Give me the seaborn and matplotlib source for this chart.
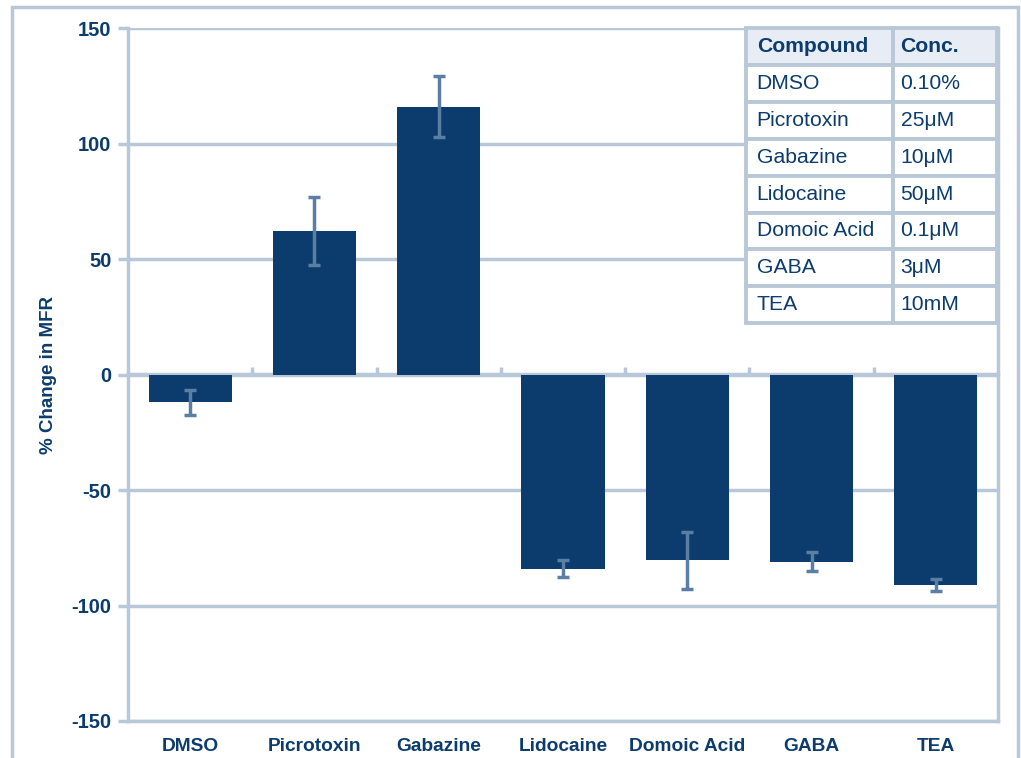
import matplotlib
matplotlib.use("Agg")
import matplotlib.pyplot as plt
from matplotlib.patches import Rectangle
import pandas as pd
import seaborn as sns

compounds = ["DMSO", "Picrotoxin", "Gabazine", "Lidocaine", "Domoic Acid", "GABA", "TEA"]
pct_change = [-12, 62, 116, -84, -80.5, -81, -91]
sem = [5.5, 14.7, 13.4, 3.6, 12.3, 4.1, 2.6]
concentrations = ["0.10%", "25μM", "10μM", "50μM", "0.1μM", "3μM", "10mM"]
y_ticks = [-150, -100, -50, 0, 50, 100, 150]

BAR = "#0B3C6D"
ERR = "#5B7EA4"
LINE = "#B9C8D8"
TEXT = "#0B3C6D"

sns.set_theme(style="white")
plt.rcParams["font.family"] = ["Liberation Sans", "DejaVu Sans"]
plt.rcParams["axes.unicode_minus"] = False

df = pd.DataFrame({"compound": compounds, "change": pct_change, "sem": sem})

fig = plt.figure(figsize=(10.21, 7.58), dpi=100)
ax = fig.add_axes([128 / 1021, 37 / 758, 870 / 1021, 693 / 758])

sns.barplot(data=df, x="compound", y="change", color=BAR, saturation=1,
            width=0.67, errorbar=None, linewidth=0, ax=ax, zorder=3)
ax.errorbar(df["compound"], df["change"], yerr=df["sem"], fmt="none",
            ecolor=ERR, elinewidth=2.5, capsize=4.5, capthick=2.5, zorder=4)

ax.set_xlim(-0.5, len(compounds) - 0.5)
ax.set_ylim(-150, 150)
ax.set_yticks(y_ticks)
ax.yaxis.grid(True, color=LINE, linewidth=2.5, zorder=0)
ax.set_axisbelow(True)

for side in ["left", "right", "bottom"]:
    ax.spines[side].set_color(LINE)
    ax.spines[side].set_linewidth(2.5)
ax.spines["top"].set_visible(False)

ax.tick_params(axis="y", length=7, width=2.5, color=LINE, left=True,
               labelsize=14.5, labelcolor=TEXT, pad=5)
ax.tick_params(axis="x", length=0, labelsize=13.8, labelcolor=TEXT, pad=12)
for lbl in ax.get_xticklabels() + ax.get_yticklabels():
    lbl.set_fontweight("bold")

ax.set_xlabel("")
ax.set_ylabel("% Change in MFR", fontsize=13.5, fontweight="bold", color=TEXT)
ax.yaxis.set_label_coords(-0.0816, 0.5)

# zero category axis with tick marks between categories
zero_axis = ax.secondary_xaxis(0.5)
zero_axis.set_xticks([i + 0.5 for i in range(len(compounds) - 1)])
zero_axis.tick_params(axis="x", direction="out", length=5, width=2.5, color=LINE,
                      labelbottom=False, labeltop=False)
for sp in zero_axis.spines.values():
    sp.set_color(LINE)
    sp.set_linewidth(2.5)

# concentration table in the top-right corner
cell_text = [[c, k] for c, k in zip(compounds, concentrations)]
tbl = ax.table(cellText=cell_text, colLabels=["Compound", "Conc."],
               colWidths=[0.586, 0.414], cellLoc="left", colLoc="left",
               bbox=[0.710, 0.574, 0.2885, 0.426], zorder=6)
tbl.auto_set_font_size(False)
for (r, c), cell in tbl.get_celld().items():
    cell.set_edgecolor(LINE)
    cell.set_linewidth(2.8)
    cell.PAD = 0.075
    txt = cell.get_text()
    txt.set_fontsize(15.2)
    txt.set_color(TEXT)
    if r == 0:
        cell.set_facecolor("#E8ECF4")
        txt.set_fontweight("bold")
    else:
        cell.set_facecolor("white")

# outer chart frame
fig.patches.append(Rectangle((12 / 1021, -0.05), 1006 / 1021, 1.05 - 7 / 758,
                             transform=fig.transFigure, fill=False,
                             edgecolor=LINE, linewidth=2.5))

fig.savefig("out.png", dpi=100)
